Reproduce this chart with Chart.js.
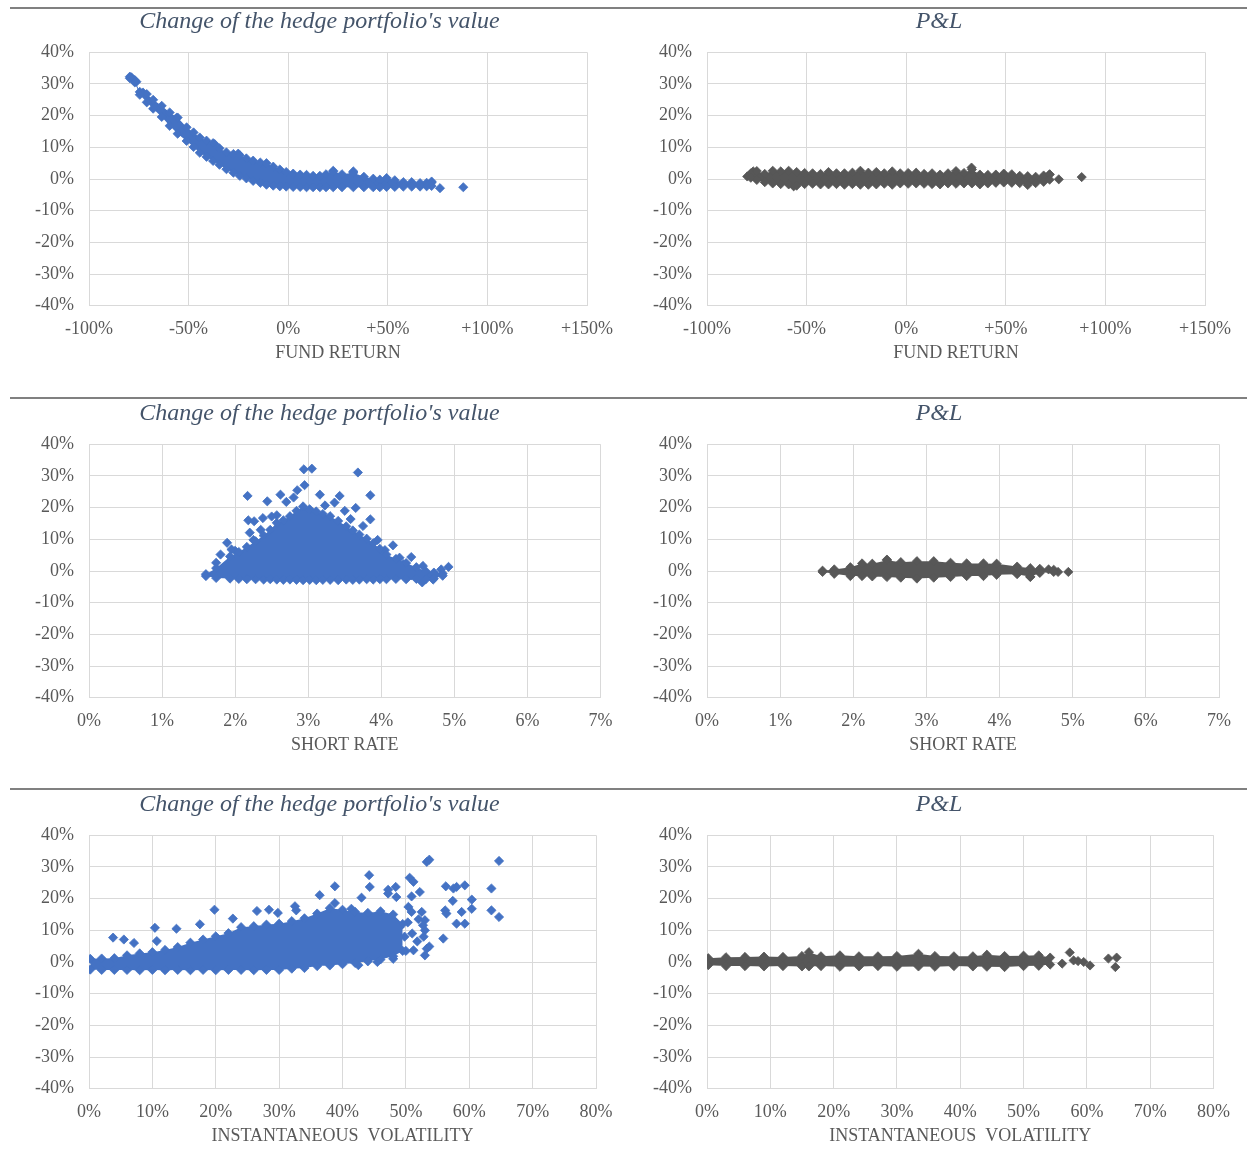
<!DOCTYPE html>
<html>
<head>
<meta charset="utf-8">
<script src="https://cdn.jsdelivr.net/npm/chart.js@4.4.1/dist/chart.umd.min.js"></script>
<style>
  body { margin: 0; background: #fff; width: 1247px; height: 1176px; position: relative; overflow: hidden; }
  .sep { position: absolute; left: 10px; right: 0; height: 2px; background: #808080; }
  canvas { position: absolute; }
</style>
</head>
<body>
<div class="sep" style="top:7px"></div>
<div class="sep" style="top:397px"></div>
<div class="sep" style="top:788px"></div>
<canvas id="c1" width="619" height="370" style="left:10px;top:0px"></canvas>
<canvas id="c2" width="614" height="370" style="left:632px;top:0px"></canvas>
<canvas id="c3" width="619" height="370" style="left:10px;top:392px"></canvas>
<canvas id="c4" width="614" height="370" style="left:632px;top:392px"></canvas>
<canvas id="c5" width="619" height="370" style="left:10px;top:783px"></canvas>
<canvas id="c6" width="614" height="370" style="left:632px;top:783px"></canvas>
<script>
// valeurs (en %), nuage dense = bord haut / bord bas + points isolés

// 1. couverture vs rendement du fonds
const hedgeFundX = [-79.5, -77, -74.5, -71, -67.8, -63.5, -59.5, -55.5, -51, -47.5, -44.4, -41, -37.7, -34.5, -31, -27.5, -24.3, -21, -17.6, -14, -10.9, -7.5, -4.2, -1, 2.5, 6, 9.2, 12.5, 15.9, 19, 22.6, 27, 32.7, 38, 42.7, 46, 49.4, 53.5, 57.8, 62, 66.2, 69.5, 72];
const hedgeFundUpper = [32.3, 31.2, 27.5, 26.8, 25.0, 23.1, 21.0, 19.4, 16.3, 14.7, 13.1, 12.1, 11.3, 9.7, 8.4, 7.9, 7.5, 6.5, 5.8, 5.2, 5.0, 3.9, 3.0, 2.2, 1.7, 1.4, 1.3, 1.0, 1.0, 1.5, 2.3, 1.5, 2.0, 0.7, 0.1, -0.2, 0.3, -0.4, -1.0, -1.0, -1.3, -1.2, -1.1];
const hedgeFundLower = [31.8, 30.5, 26.6, 24.2, 22.2, 19.6, 16.8, 14.3, 12.0, 10.1, 8.3, 7.0, 5.7, 4.5, 3.1, 2.0, 1.0, 0.2, -0.6, -1.2, -1.8, -2.1, -2.3, -2.4, -2.5, -2.5, -2.6, -2.6, -2.6, -2.6, -2.6, -2.6, -2.6, -2.6, -2.6, -2.6, -2.5, -2.5, -2.4, -2.4, -2.4, -2.3, -2.2];
const hedgeFundExtra = [[-78.7, 32.1], [-76.2, 30.7], [-72.9, 27.3], [-56.1, 19.3], [-36.9, 11.0], [-25.1, 8.0], [22.6, 2.6], [32.7, 2.4], [72, -0.8], [76.2, -2.9], [87.9, -2.6]];

// 2. P&L vs rendement du fonds
const plFundX = [-78, -75, -71, -67, -63, -59, -55, -51, -47, -43, -39, -35, -31, -27, -23, -19, -15, -11, -7, -3, 1, 5, 9, 13, 17, 21, 25, 29, 33, 37, 41, 45, 49, 53, 57, 61, 65, 69, 72];
const plFundUpper = [1.8, 2.5, 1.6, 2.6, 2.4, 2.6, 2.2, 1.9, 1.8, 1.6, 2.2, 1.8, 1.8, 2.0, 2.6, 2.0, 2.2, 1.8, 2.4, 1.8, 1.9, 2.0, 1.6, 1.8, 1.4, 1.8, 2.5, 1.9, 3.0, 1.4, 1.3, 1.4, 1.7, 1.5, 1.0, 0.9, 0.7, 1.1, 1.4];
const plFundLower = [0.4, -0.3, -1.0, -1.4, -1.6, -1.7, -2.1, -1.6, -1.5, -1.7, -1.7, -1.6, -1.8, -1.6, -1.8, -1.8, -1.7, -1.5, -1.8, -1.4, -1.5, -1.4, -1.5, -1.6, -1.7, -1.4, -1.5, -1.4, -1.4, -1.7, -1.4, -1.2, -1.1, -1.2, -1.3, -1.9, -1.3, -0.9, -0.2];
const plFundExtra = [[-79.8, 0.8], [-76.8, 2.4], [32.8, 3.6], [72, 1.5], [76.6, -0.1], [88.1, 0.6], [-56.5, -2.3]];

// 3. couverture vs taux court
const hedgeRateX = [1.6, 1.74, 1.93, 2.05, 2.16, 2.28, 2.39, 2.48, 2.57, 2.66, 2.75, 2.84, 2.93, 3.02, 3.11, 3.2, 3.3, 3.41, 3.52, 3.61, 3.7, 3.8, 3.89, 3.98, 4.07, 4.2, 4.34, 4.48, 4.61, 4.72, 4.84];
const hedgeRateUpper = [-1.0, 0.9, 4.6, 6.0, 7.6, 9.4, 11.2, 13.0, 15.2, 16.0, 17.3, 19.0, 20.4, 19.5, 18.8, 18.0, 17.3, 15.8, 14.1, 12.8, 11.5, 10.2, 8.8, 7.0, 5.2, 3.8, 2.5, 1.2, -0.1, -0.5, -0.8];
const hedgeRateLower = [-1.6, -2.2, -2.4, -2.5, -2.6, -2.6, -2.7, -2.6, -2.7, -2.8, -2.7, -2.8, -2.9, -2.8, -2.9, -2.8, -2.8, -2.9, -2.7, -2.8, -2.7, -2.6, -2.7, -2.6, -2.6, -2.5, -2.6, -2.5, -2.6, -2.3, -1.5];
const hedgeRateExtra = [[2.94, 32.1], [3.05, 32.3], [3.68, 31.1], [2.95, 27.1], [2.85, 25.5], [2.62, 24.1], [2.17, 23.7], [2.44, 22.0], [3.16, 24.1], [3.43, 23.7], [3.85, 23.9], [3.36, 21.6], [3.23, 20.7], [3.02, 19.2], [3.65, 19.9], [3.85, 16.3], [2.18, 16.0], [2.26, 15.7], [2.38, 16.7], [2.57, 17.6], [1.89, 8.9], [2.20, 12.1], [4.16, 8.1], [4.41, 4.4], [4.57, 1.6], [4.82, 0.5], [4.92, 1.3], [1.74, 2.6], [4.55, -2.4], [4.41, -1.4], [4.71, -2.7], [4.56, -3.6], [2.7, 21.8], [2.8, 23.2], [3.5, 19.0], [2.5, 17.2], [1.8, 5.2], [2.0, 6.4], [4.3, 2.2], [4.2, 2.8], [2.25, 9.8], [2.35, 13.0], [3.75, 14.2], [3.95, 9.8], [4.05, 6.6], [4.25, 4.2], [1.95, 6.8], [3.58, 16.4]];

// 4. P&L vs taux court
const plRateX = [1.58, 1.74, 1.96, 2.12, 2.26, 2.46, 2.65, 2.87, 3.10, 3.33, 3.55, 3.78, 3.96, 4.24, 4.42, 4.55, 4.74];
const plRateUpper = [0.1, 0.5, 1.2, 2.4, 2.3, 3.4, 2.8, 3.1, 3.1, 2.6, 2.4, 2.4, 2.3, 1.4, 0.9, 0.7, 0.4];
const plRateLower = [-0.3, -0.9, -1.6, -1.6, -1.7, -1.9, -2.1, -2.4, -2.1, -1.9, -1.6, -1.6, -1.2, -1.0, -1.8, -0.6, -0.3];
const plRateExtra = [[4.80, -0.3], [4.94, -0.3], [4.67, 0.5], [4.42, -1.9], [2.46, 3.6]];

// 5. couverture vs volatilité instantanée
const hedgeVolX = [0.2, 2, 4, 6, 8, 10, 12, 14, 16, 18, 20, 22, 24, 26, 28, 30, 32, 34, 36, 38, 40, 42, 44, 46, 48, 49.5];
const hedgeVolUpper = [1.0, 1.1, 1.2, 2.1, 2.7, 3.1, 3.8, 4.7, 6.1, 7.1, 8.1, 9.1, 11.0, 11.3, 11.8, 12.1, 12.9, 13.8, 15.3, 17.0, 16.5, 15.8, 15.5, 16.0, 15.0, 12.0];
const hedgeVolLower = [-2.4, -2.5, -2.5, -2.5, -2.6, -2.5, -2.6, -2.5, -2.6, -2.5, -2.6, -2.5, -2.5, -2.6, -2.5, -2.5, -2.1, -1.9, -1.3, -1.1, -0.7, -0.3, 0.2, 0.8, 1.8, 3.5];
const hedgeVolExtra = [[3.8, 7.7], [5.5, 7.1], [7.1, 6.0], [10.4, 10.8], [10.7, 6.6], [13.8, 10.5], [17.5, 11.9], [19.8, 16.5], [22.7, 13.7], [26.5, 16.1], [28.4, 16.5], [29.8, 15.5], [32.5, 17.6], [32.7, 16.3], [36.4, 21.1], [38.8, 23.9], [38.8, 18.6], [41.4, 16.8], [43.0, 20.3], [44.2, 27.4], [44.3, 23.7], [47.2, 22.8], [48.4, 23.7], [47.2, 21.6], [48.5, 20.5], [50.4, 17.4], [50.6, 26.6], [51.2, 25.3], [50.9, 20.7], [52.2, 22.1], [52.5, 15.8], [53.0, 13.2], [53.3, 31.6], [53.7, 32.3], [50.9, 15.8], [53.0, 10.0], [52.7, 11.6], [51.2, 3.7], [53.3, 4.2], [53.7, 4.9], [53.0, 2.1], [55.9, 7.4], [56.2, 16.3], [56.4, 15.3], [56.3, 23.9], [57.5, 23.2], [58.0, 23.7], [57.4, 19.3], [59.3, 24.2], [58.8, 15.8], [58.0, 12.1], [59.3, 12.1], [60.4, 19.7], [60.4, 16.8], [63.5, 23.2], [63.5, 16.3], [64.7, 31.9], [64.7, 14.2], [46.5, 12.0], [47.5, 8.5], [48.5, 6.0], [49.0, 11.0], [49.8, 8.0], [50.3, 12.5], [51.0, 9.0], [51.8, 6.5], [52.0, 13.5], [52.8, 8.0], [50.0, 3.5], [48.0, 1.0], [45.5, 0.0], [42.5, -1.0]];

// 6. P&L vs volatilité instantanée
const plVolX = [0.2, 3, 6, 9, 12, 15, 16.1, 18, 21, 24, 27, 30, 33.4, 36, 39, 42, 44.2, 47, 50, 52.4, 54.2];
const plVolUpper = [1.2, 1.5, 1.6, 1.7, 1.6, 1.9, 3.1, 1.8, 2.1, 1.8, 1.8, 1.9, 2.6, 1.9, 1.8, 1.8, 2.3, 1.9, 2.0, 2.1, 1.4];
const plVolLower = [-1.0, -1.3, -1.3, -1.4, -1.3, -1.4, -1.4, -1.3, -1.5, -1.4, -1.3, -1.5, -1.4, -1.5, -1.3, -1.4, -1.5, -1.6, -1.3, -1.2, -0.8];
const plVolExtra = [[57.3, 3.0], [56.1, -0.5], [57.9, 0.5], [59.5, 0.0], [60.5, -1.1], [63.4, 1.1], [64.5, -1.6], [64.7, 1.4], [58.6, 0.3]];

const BLUE = '#4472c4';
const GREY = '#575757';
const TEXT = '#595959';
const GRID = '#d9d9d9';
const FONT = "'Liberation Serif', 'Times New Roman', serif";

const pctTick = v => v + '%';
const signedTick = v => (v > 0 ? '+' : '') + v + '%';

function pairs(xs, ys) {
    return xs.map((x, i) => ({ x: x, y: ys[i] }));
}

function makeChart(id, s) {
    const pt = {
        pointStyle: 'rectRot',
        pointRadius: 4.6,
        pointBorderWidth: 0.8,
        pointBackgroundColor: s.color,
        pointBorderColor: s.color
    };
    new Chart(document.getElementById(id), {
        type: 'scatter',
        data: {
            datasets: [
                Object.assign({ type: 'line', data: pairs(s.bandX, s.lower), borderWidth: 0, fill: false, tension: 0 }, pt),
                Object.assign({ type: 'line', data: pairs(s.bandX, s.upper), borderWidth: 0, fill: '-1', backgroundColor: s.color, tension: 0 }, pt),
                Object.assign({ data: s.extra.map(p => ({ x: p[0], y: p[1] })) }, pt)
            ]
        },
        options: {
            responsive: false,
            animation: false,
            devicePixelRatio: 1,
            layout: { padding: 0 },
            plugins: {
                legend: { display: false },
                tooltip: { enabled: false },
                title: {
                    display: true,
                    text: s.title,
                    color: '#44546a',
                    font: { family: FONT, size: 24, style: 'italic', weight: 'normal', lineHeight: 1.2 },
                    padding: { top: 7.6, bottom: 15.9 }
                }
            },
            scales: {
                x: {
                    type: 'linear',
                    min: s.xMin, max: s.xMax,
                    afterFit: sc => { sc.height = 64.3; },
                    ticks: { stepSize: s.xStep, callback: s.xFmt, color: TEXT, padding: 13, maxRotation: 0, font: { family: FONT, size: 18 } },
                    grid: { color: GRID, drawTicks: false },
                    border: { color: GRID },
                    title: { display: true, text: s.xTitle, color: TEXT, padding: { top: 0, bottom: 5.7 }, font: { family: FONT, size: 18 } }
                },
                y: {
                    min: -40, max: 40,
                    afterFit: sc => { sc.width = s.yW; },
                    ticks: { stepSize: 10, callback: pctTick, color: TEXT, padding: 15, font: { family: FONT, size: 18 } },
                    grid: { color: GRID, drawTicks: false },
                    border: { color: GRID }
                },
                // axe vide à droite : réserve la marge sans toucher au centrage du titre
                yRight: {
                    position: 'right',
                    min: -40, max: 40,
                    afterFit: sc => { sc.width = s.rightW; },
                    ticks: { display: false },
                    grid: { display: false, drawTicks: false },
                    border: { display: false }
                }
            }
        }
    });
}

const HEDGE = "Change of the hedge portfolio's value";

makeChart('c1', { title: HEDGE, color: BLUE, bandX: hedgeFundX, upper: hedgeFundUpper, lower: hedgeFundLower, extra: hedgeFundExtra,
    xMin: -100, xMax: 150, xStep: 50, xFmt: signedTick, xTitle: 'FUND RETURN', yW: 79, rightW: 42 });
makeChart('c2', { title: 'P&L', color: GREY, bandX: plFundX, upper: plFundUpper, lower: plFundLower, extra: plFundExtra,
    xMin: -100, xMax: 150, xStep: 50, xFmt: signedTick, xTitle: 'FUND RETURN', yW: 75, rightW: 41 });
makeChart('c3', { title: HEDGE, color: BLUE, bandX: hedgeRateX, upper: hedgeRateUpper, lower: hedgeRateLower, extra: hedgeRateExtra,
    xMin: 0, xMax: 7, xStep: 1, xFmt: pctTick, xTitle: 'SHORT RATE', yW: 79, rightW: 28.5 });
makeChart('c4', { title: 'P&L', color: GREY, bandX: plRateX, upper: plRateUpper, lower: plRateLower, extra: plRateExtra,
    xMin: 0, xMax: 7, xStep: 1, xFmt: pctTick, xTitle: 'SHORT RATE', yW: 75, rightW: 27 });
makeChart('c5', { title: HEDGE, color: BLUE, bandX: hedgeVolX, upper: hedgeVolUpper, lower: hedgeVolLower, extra: hedgeVolExtra,
    xMin: 0, xMax: 80, xStep: 10, xFmt: pctTick, xTitle: 'INSTANTANEOUS  VOLATILITY', yW: 79, rightW: 33 });
makeChart('c6', { title: 'P&L', color: GREY, bandX: plVolX, upper: plVolUpper, lower: plVolLower, extra: plVolExtra,
    xMin: 0, xMax: 80, xStep: 10, xFmt: pctTick, xTitle: 'INSTANTANEOUS  VOLATILITY', yW: 75, rightW: 32.5 });
</script>
</body>
</html>
